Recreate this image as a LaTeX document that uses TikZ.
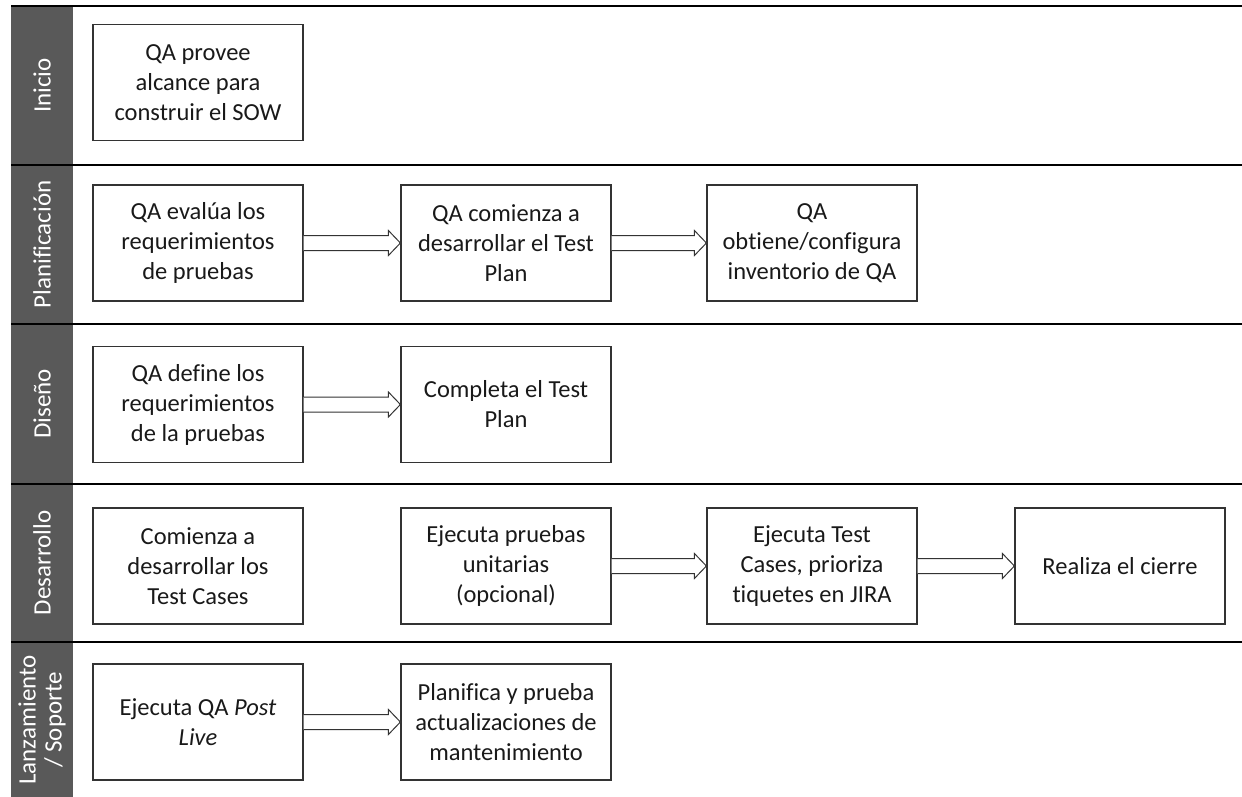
\documentclass[tikz,border=0pt]{standalone}
\usepackage{fontspec}
\setmainfont{Carlito}[Ligatures=NoCommon]
\usetikzlibrary{calc}
\definecolor{hdr}{HTML}{595959}
\definecolor{bordc}{HTML}{333333}
\newcommand{\blockarr}[2]{%
  \draw[barrow] ($(#1.east)+(0,-7.5)$) -- ($(#2.west)+(-12,-7.5)$) -- ($(#2.west)+(-12,-12.5)$) -- (#2.west) -- ($(#2.west)+(-12,12.5)$) -- ($(#2.west)+(-12,7.5)$) -- ($(#1.east)+(0,7.5)$);}
\begin{document}
\begin{tikzpicture}[x=1pt,y=-1pt,
  box/.style={draw=bordc, line width=1.2pt, minimum width=210pt, minimum height=116pt, align=center, inner sep=0pt, text=black!90, font=\fontsize{24.5}{30}\selectfont},
  hdrtext/.style={text=white, rotate=90, align=center, font=\fontsize{25}{26}\selectfont},
  lane/.style={line width=1.8pt, black},
  barrow/.style={draw=bordc, line width=1pt, fill=white}]
\useasboundingbox (0,0) rectangle (1242,797);
\fill[hdr] (11,6) rectangle (73,797);
\draw[line width=2.5pt] (11,6) -- (1242,6);
\foreach \yy in {165,324,484,642} \draw[lane] (11,\yy) -- (1242,\yy);
% headers
\node[hdrtext] (h1) at (42,85.5) {Inicio};
\node[hdrtext] (h2) at (42,244.5) {Planificación};
\node[hdrtext] (h3) at (42,404) {Diseño};
\node[hdrtext] (h4) at (42,563) {Desarrollo};
\node[hdrtext] (h5) at (42,720) {Lanzamiento\\/ Soporte};
% boxes
\node[box] (i1) at (198,82.5) {QA provee\\alcance para\\construir el SOW};
\node[box] (p1) at (198,243) {QA evalúa los\\requerimientos\\de pruebas};
\node[box] (p2) at (506,243) {QA comienza a\\desarrollar el Test\\Plan};
\node[box] (p3) at (812,243) {QA\\obtiene/configura\\inventorio de QA};
\node[box] (d1) at (198,404.5) {QA define los\\requerimientos\\de la pruebas};
\node[box] (d2) at (506,404.5) {Completa el Test\\Plan};
\node[box] (e1) at (198,566) {Comienza a\\desarrollar los\\Test Cases};
\node[box] (e2) at (506,566) {Ejecuta pruebas\\unitarias\\(opcional)};
\node[box] (e3) at (812,566) {Ejecuta Test\\Cases, prioriza\\tiquetes en JIRA};
\node[box] (e4) at (1120,566) {Realiza el cierre};
\node[box] (l1) at (198,722) {Ejecuta QA \textit{Post}\\\textit{Live}};
\node[box] (l2) at (506,722) {Planifica y prueba\\actualizaciones de\\mantenimiento};
% arrows
\blockarr{p1}{p2}
\blockarr{p2}{p3}
\blockarr{d1}{d2}
\blockarr{e2}{e3}
\blockarr{e3}{e4}
\blockarr{l1}{l2}
\end{tikzpicture}
\end{document}
